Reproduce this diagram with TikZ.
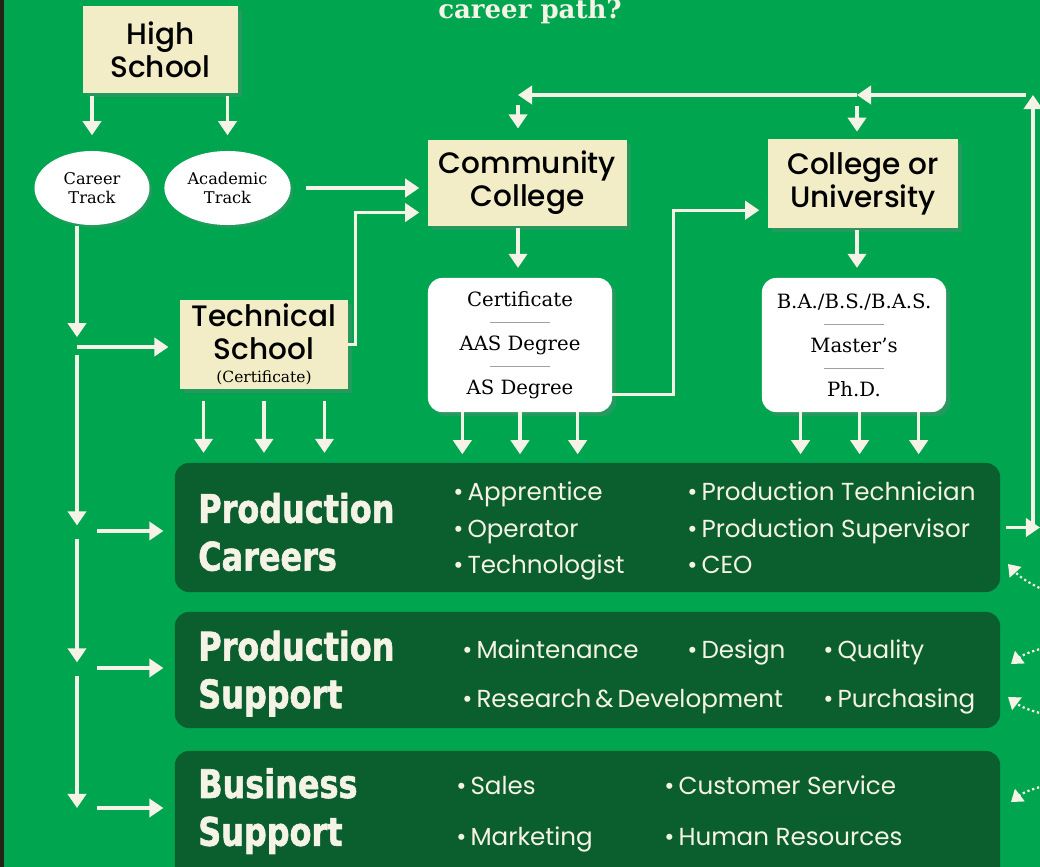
\documentclass[tikz,border=0pt]{standalone}
\usepackage{fontspec}
\usepackage{tikz}
\usetikzlibrary{arrows.meta,shapes.geometric,shadows}
\setmainfont{DejaVu Serif}
\newfontfamily\headfont{Poppins}[UprightFont={* Medium}]
\newfontfamily\itemfont{Poppins}
\newfontfamily\bandfont{DejaVu Sans Condensed}[FakeStretch=0.9, BoldFeatures={FakeBold=1.5}]
\definecolor{bggreen}{RGB}{0,165,80}
\definecolor{bandgreen}{RGB}{11,94,46}
\definecolor{cream}{RGB}{242,237,198}
\definecolor{offwhite}{RGB}{245,243,230}
\definecolor{sepgray}{RGB}{160,160,160}
\definecolor{edgedark}{RGB}{38,34,22}
\newcommand{\sepline}{\\\textcolor{sepgray}{\rule[4pt]{1.5cm}{0.6pt}}\\}

\begin{document}
\begin{tikzpicture}[x=0.025cm, y=-0.025cm,
		 								arr/.style={draw=offwhite, line width=2.2pt, -{Triangle[width=13pt,length=10pt]}},
										dotarr/.style={draw=offwhite, line width=1.6pt, dotted, -{Triangle[width=11pt,length=8pt]}},
										box/.style={fill=cream, align=center, inner sep=0pt, font=\headfont\fontsize{21}{23.5}\selectfont,
											drop shadow={opacity=0.3, shadow xshift=3pt, shadow yshift=-3pt}},
										track/.style={ellipse, fill=white, align=center, minimum width=2.875cm, minimum height=1.85cm,
											font=\fontsize{11.5}{13.5}\selectfont, drop shadow={opacity=0.25, shadow xshift=2pt, shadow yshift=-2pt}},
										degree/.style={fill=white, rounded corners=10pt, align=center, minimum width=4.6cm, minimum height=3.35cm,
											font=\fontsize{14}{15.6}\selectfont, drop shadow={opacity=0.3, shadow xshift=3pt, shadow yshift=-3pt}},
										band/.style={fill=bandgreen, rounded corners=10pt, minimum width=20.625cm, inner sep=0pt},
										bandtitle/.style={anchor=west, align=left, inner sep=0pt, text=offwhite,
											font=\bandfont\bfseries\fontsize{28}{34}\selectfont},
										item/.style={anchor=base west, inner sep=0pt, text=offwhite, font=\itemfont\fontsize{17.5}{20}\selectfont}]

		\useasboundingbox (0,0) rectangle (1040,867);
		\fill[bggreen] (0,0) rectangle (1040,867);
		\clip (0,0) rectangle (1040,867);
		\fill[edgedark] (0,0) rectangle (4,867);

		\node[anchor=base, text=offwhite, font=\bfseries\fontsize{18.5}{22}\selectfont] (ttl) at (530,19) {career path?};

		\node[box, minimum width=3.875cm, minimum height=2.175cm] (hs) at (160.5,49.5) {High\\School};
		\node[box, minimum width=4.975cm, minimum height=2.15cm] (cc) at (527.5,183) {Community\\College};
		\node[box, minimum width=4.75cm, minimum height=2.225cm] (cu) at (863,183.5) {College or\\University};
		\node[box, minimum width=4.2cm, minimum height=2.225cm] (ts) at (264,344.5)
			{Technical\\School\\[-7pt]{\normalfont\fontsize{11}{12}\selectfont (Certificate)}};

		\node[track] (ct) at (92,188) {Career\\Track};
		\node[track] (at) at (227.5,188) {Academic\\Track};

		\node[degree] (cs) at (520,345) {Certificate\sepline AAS Degree\sepline AS Degree};
		\node[degree] (dg) at (854,345) {B.A./B.S./B.A.S.\sepline Master's\sepline Ph.D.};

		\node[band, minimum height=3.225cm] (b1) at (587.5,527.5) {};
		\node[band, minimum height=2.9cm] (b2) at (587.5,670) {};
		\node[band, minimum height=3.475cm] (b3) at (587.5,820.5) {};

		\node[bandtitle] (t1) at (198,532) {Production\\Careers};
		\node[bandtitle] (t2) at (198,673.5) {Production\\Support};
		\node[bandtitle] (t3) at (198,811) {Business\\Support};

		\node[item] (i11) at (453,500) {\textbullet\,Apprentice};
		\node[item] (i12) at (453,537) {\textbullet\,Operator};
		\node[item] (i13) at (453,573) {\textbullet\,Technologist};
		\node[item] (i14) at (687,500) {\textbullet\,Production Technician};
		\node[item] (i15) at (687,537) {\textbullet\,Production Supervisor};
		\node[item] (i16) at (687,573) {\textbullet\,CEO};

		\node[item] (i21) at (462,658) {\textbullet\,Maintenance};
		\node[item] (i22) at (687,658) {\textbullet\,Design};
		\node[item] (i23) at (823,658) {\textbullet\,Quality};
		\node[item] (i24) at (462,707) {\textbullet\,Research\,\&\,Development};
		\node[item] (i25) at (823,707) {\textbullet\,Purchasing};

		\node[item] (i31) at (456,794) {\textbullet\,Sales};
		\node[item] (i32) at (664,794) {\textbullet\,Customer Service};
		\node[item] (i33) at (456,845) {\textbullet\,Marketing};
		\node[item] (i34) at (664,845) {\textbullet\,Human Resources};

		\coordinate (rt) at (1033,95);
		\coordinate (cut) at (857,95);
		\coordinate (cct) at (518,95);
		\coordinate (rb) at (b1.east -| rt);
		\coordinate (ro) at (1040,527.5);
		\coordinate (sp) at (77,226);
		\coordinate (j1) at (77,347);
		\coordinate (j2) at (77,531);
		\coordinate (j3) at (77,668);
		\coordinate (j4) at (77,808);

		\draw[arr, shorten <=2pt, shorten >=11pt] (hs.south -| ct.north) -- (ct.north);
		\draw[arr, shorten <=2pt, shorten >=11pt] (hs.south -| at.north) -- (at.north);
		\draw[arr, shorten <=11pt, shorten >=6pt] (at.east) -- (at.east -| cc.west);
		\draw[arr, shorten >=6pt] (ts.east) -- ++(7,0) |- ([yshift=-21pt]cc.west);
		\draw[arr, shorten >=6pt] ([yshift=-35pt]cs.east) -- ++(61,0) |- ([yshift=-19pt]cu.west);

		\draw[arr, shorten <=1.5pt, shorten >=7pt] (cct |- cc.south) -- (cct |- cs.north);
		\draw[arr, shorten <=1.5pt, shorten >=7pt] (cut |- cu.south) -- (cut |- dg.north);

		\draw[arr, shorten <=4pt] (b1.east) -- (ro);
		\draw[arr] (rb) -- (rt);
		\draw[arr, shorten <=5pt] (rt) -- (cut);
		\draw[arr] (cut) -- (cct);
		\draw[arr, shorten <=7pt, shorten >=8pt] (cct) -- (cct |- cc.north);
		\draw[arr, shorten <=8pt, shorten >=5pt] (cut) -- (cut |- cu.north);

		\draw[arr, shorten >=7pt] (sp) -- (j1);
		\draw[arr, shorten <=6pt, shorten >=4pt] (j1) -- (j2);
		\draw[arr, shorten <=6pt, shorten >=4pt] (j2) -- (j3);
		\draw[arr, shorten <=6pt] (j3) -- (j4);
		\draw[arr, shorten >=8pt] (j1) -- (j1 -| ts.west);
		\draw[arr, shorten <=14pt, shorten >=8pt] (j2) -- (j2 -| b1.west);
		\draw[arr, shorten <=14pt, shorten >=8pt] (j3) -- (j3 -| b2.west);
		\draw[arr, shorten <=14pt, shorten >=8pt] (j4) -- (j4 -| b3.west);

		\foreach \dx in {-43pt,0pt,43pt} {
			\path ([xshift=\dx]ts.south) coordinate (top);
			\draw[arr, shorten <=8pt, shorten >=7pt] (top) -- (top |- b1.north);
		}
		\foreach \dx in {-41pt,0pt,41pt} {
			\path ([xshift=\dx]cs.south) coordinate (top);
			\draw[arr, shorten >=6pt] (top) -- (top |- b1.north);
		}
		\foreach \dx in {-38pt,4pt,46pt} {
			\path ([xshift=\dx]dg.south) coordinate (top);
			\draw[arr, shorten >=6pt] (top) -- (top |- b1.north);
		}

		\coordinate (d1a) at (1044,590);
		\coordinate (d1b) at (1008,564);
		\coordinate (d2a) at (1044,648);
		\coordinate (d2b) at (1011,664);
		\coordinate (d3a) at (1044,714);
		\coordinate (d3b) at (1008,697);
		\coordinate (d4a) at (1044,786);
		\coordinate (d4b) at (1011,802);
		\draw[dotarr] (d1a) to[bend left=12] (d1b);
		\draw[dotarr] (d2a) to[bend right=12] (d2b);
		\draw[dotarr] (d3a) to[bend left=12] (d3b);
		\draw[dotarr] (d4a) to[bend right=12] (d4b);

		\end{tikzpicture}
\end{document}
